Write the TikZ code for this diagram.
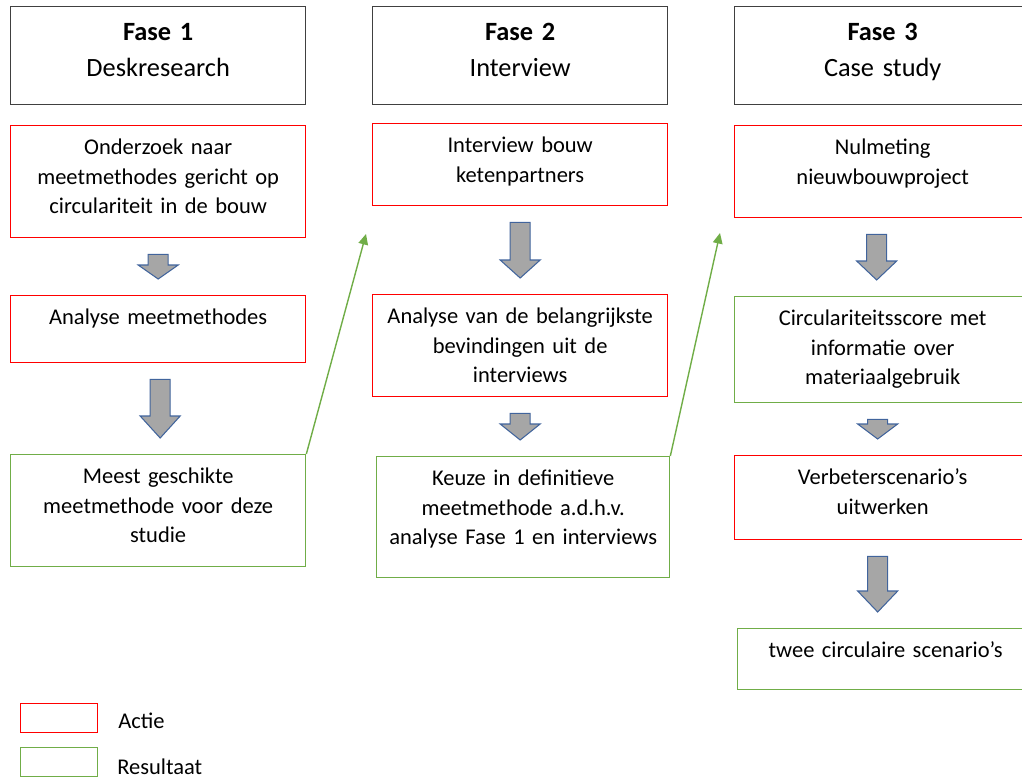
\documentclass[tikz,border=0pt]{standalone}
\usepackage{fontspec}
\setmainfont{Carlito}
\usetikzlibrary{calc,arrows.meta}

\definecolor{actierood}{HTML}{FF0000}
\definecolor{resultgroen}{HTML}{70AD47}
\definecolor{pijlgrijs}{HTML}{A6A6A6}
\definecolor{pijlrand}{HTML}{41649C}

% one pixel of the original sheet
\newcommand{\pxu}{0.569pt}
% block arrow between two boxes: [x shift], from, to, head length (px)
\newcommand{\blokpijl}[4][0]{%
  \draw[blok] let \p1=($(#2.south)+(#1,0)$), \p2=(#3.north),
      \n1={\y1-16*\pxu}, \n2={\y2+16*\pxu}, \n3={\y2+(16+#4)*\pxu} in
    (\x1-10*\pxu,\n1) -- (\x1+10*\pxu,\n1) -- (\x1+10*\pxu,\n3) -- (\x1+20*\pxu,\n3)
    -- (\x1,\n2) -- (\x1-20*\pxu,\n3) -- (\x1-10*\pxu,\n3) -- cycle;}

\begin{document}
\begin{tikzpicture}[x=0.02cm,y=0.02cm,font=\fontsize{12.8}{16.8}\selectfont]
  \tikzset{
    fase/.style={
      draw=black!75,
      line width=0.8pt,
      anchor=north west,
      align=center,
      inner sep=0pt,
      text width=5.9cm,
      text height=0.68cm,
      text depth=1.28cm,
      font=\fontsize{15}{20.4}\selectfont
    },
    stap/.style={
      line width=0.8pt,
      anchor=north west,
      align=center,
      inner sep=0pt,
      text width=5.9cm,
      text height=0.58cm
    },
    actie/.style={stap,draw=actierood},
    resultaat/.style={stap,draw=resultgroen},
    blok/.style={draw=pijlrand,fill=pijlgrijs,line width=0.6pt},
    terug/.style={draw=resultgroen,line width=0.8pt,-{Triangle[length=6pt,width=5.5pt]}},
    legenda/.style={line width=0.8pt,minimum width=1.54cm,minimum height=0.58cm,inner sep=0pt,anchor=north west}
  }
  \useasboundingbox (0,0) rectangle (1022,-778);

  \node[fase] (fase1) at (10,-6) {\textbf{Fase 1}\\Deskresearch};
  \node[fase] (fase2) at (372,-6) {\textbf{Fase 2}\\Interview};
  \node[fase,text width=5.92cm] (fase3) at (734,-6) {\textbf{Fase 3}\\Case study};

  \node[actie,text depth=1.66cm] (onderzoek) at (10,-125) {Onderzoek naar\\meetmethodes gericht op\\circulariteit in de bouw};
  \node[actie,text depth=0.76cm] (analyse) at (10,-295) {Analyse meetmethodes};
  \node[resultaat,text depth=1.66cm] (meest) at (10,-454) {Meest geschikte\\meetmethode voor deze\\studie};

  \node[actie,text depth=1.06cm] (interview) at (372,-123) {Interview bouw\\ketenpartners};
  \node[actie,text depth=1.46cm] (bevindingen) at (372,-294) {Analyse van de belangrijkste\\bevindingen uit de\\interviews};
  \node[resultaat,text width=5.86cm,text depth=1.84cm] (keuze) at (376,-456) {Keuze in definitieve\\meetmethode a.d.h.v.\\analyse Fase 1 en interviews};

  \node[actie,text width=5.92cm,text depth=1.26cm] (nulmeting) at (734,-125) {Nulmeting\\nieuwbouwproject};
  \node[resultaat,text width=5.92cm,text depth=1.54cm] (score) at (734,-296) {Circulariteitsscore met\\informatie over\\materiaalgebruik};
  \node[actie,text width=5.92cm,text depth=1.10cm] (verbeter) at (734,-455) {Verbeterscenario’s\\uitwerken};
  \node[resultaat,text width=5.92cm,text depth=0.64cm] (twee) at (737,-628) {twee circulaire scenario’s};

  \blokpijl{onderzoek}{analyse}{14}
  \blokpijl[2]{analyse}{meest}{22}
  \blokpijl{interview}{bevindingen}{18}
  \blokpijl{bevindingen}{keuze}{16}
  \blokpijl[-6]{nulmeting}{score}{19}
  \blokpijl[-5]{score}{verbeter}{15}
  \blokpijl[-5]{verbeter}{twee}{21}

  \coordinate (naarfase2) at (366,-234);
  \coordinate (naarfase3) at (720,-233);
  \draw[terug] (meest.north east) -- (naarfase2);
  \draw[terug] (keuze.north east) -- (naarfase3);

  % legend
  \node[legenda,draw=actierood] (legactie) at (20,-703) {};
  \node[legenda,draw=resultgroen] (legresultaat) at (20,-747) {};
  \node[anchor=west,inner sep=0pt] (actie) at (118,-721) {Actie};
  \node[anchor=west,inner sep=0pt] (resultaat) at (117,-767) {Resultaat};
\end{tikzpicture}
\end{document}
